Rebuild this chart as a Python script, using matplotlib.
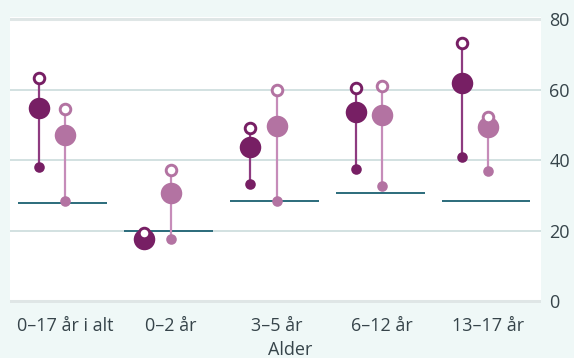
import matplotlib
matplotlib.use("Agg")
import matplotlib.pyplot as plt
import numpy as np

plt.rcParams["font.family"] = ["Open Sans", "DejaVu Sans"]

categories = ["0–17 år i alt", "0–2 år", "3–5 år", "6–12 år", "13–17 år"]

# dark series: low / mid / high
dark_low = [38.1, 16.2, 33.2, 37.6, 40.9]
dark_mid = [54.8, 17.8, 43.8, 53.7, 61.9]
dark_high = [63.5, 19.3, 49.2, 60.6, 73.3]

# light series: low / mid / high
light_low = [28.5, 17.7, 28.5, 32.7, 37.0]
light_mid = [47.1, 30.7, 49.7, 53.0, 49.6]
light_high = [54.6, 37.4, 60.1, 61.2, 52.3]

# reference level per group
reference = [28.0, 20.0, 28.5, 30.7, 28.4]

yticks = [0, 20, 40, 60, 80]

BG = "#eff8f7"
DARK = "#771f64"
DARK_LINE = "#8e3b80"
LIGHT = "#b373a2"
LIGHT_LINE = "#c68cb9"
REF = "#2b6b7b"
TEXT = "#36444a"

fig = plt.figure(figsize=(5.74, 3.58), dpi=100, facecolor=BG)
ax = fig.add_axes([10 / 574, 55 / 358, 531 / 574, 286 / 358])
ax.set_facecolor("white")

x = np.arange(len(categories))


def draw_series(xs, low, mid, high, color, line_color):
    ax.vlines(xs, low, high, color=line_color, linewidth=1.6, zorder=3)
    ax.scatter(xs, low, s=58, color=color, zorder=4, linewidths=0)
    ax.scatter(xs, mid, s=240, color=color, zorder=5, linewidths=0)
    ax.scatter(xs, high, s=58, facecolor="white", edgecolor=color,
               linewidths=2.1, zorder=6)


ax.hlines(reference, x - 0.44, x + 0.40, color=REF, linewidth=1.4, zorder=2)
draw_series(x - 0.25, dark_low, dark_mid, dark_high, DARK, DARK_LINE)
draw_series(x, light_low, light_mid, light_high, LIGHT, LIGHT_LINE)

for t in yticks:
    if t in (0, 80):
        ax.axhline(t, color="#dfe6e6", linewidth=2.2, zorder=1)
    else:
        ax.axhline(t, color="#cbdcdc", linewidth=1.2, zorder=1)

ax.set_xlim(-0.52, 4.50)
ax.set_ylim(-0.43, 80.7)
ax.set_xticks(x)
ax.set_xticklabels(categories, fontsize=13, color=TEXT)
ax.set_yticks(yticks)
ax.yaxis.tick_right()
ax.tick_params(axis="both", length=0, labelcolor=TEXT)
ax.tick_params(axis="y", labelsize=13, pad=6)
ax.tick_params(axis="x", pad=10)
for s in ax.spines.values():
    s.set_visible(False)

fig.text(290 / 574, 1 - 350 / 358, "Alder", ha="center", va="center",
         fontsize=13, color=TEXT)

fig.savefig("out.png", dpi=100, facecolor=BG)
